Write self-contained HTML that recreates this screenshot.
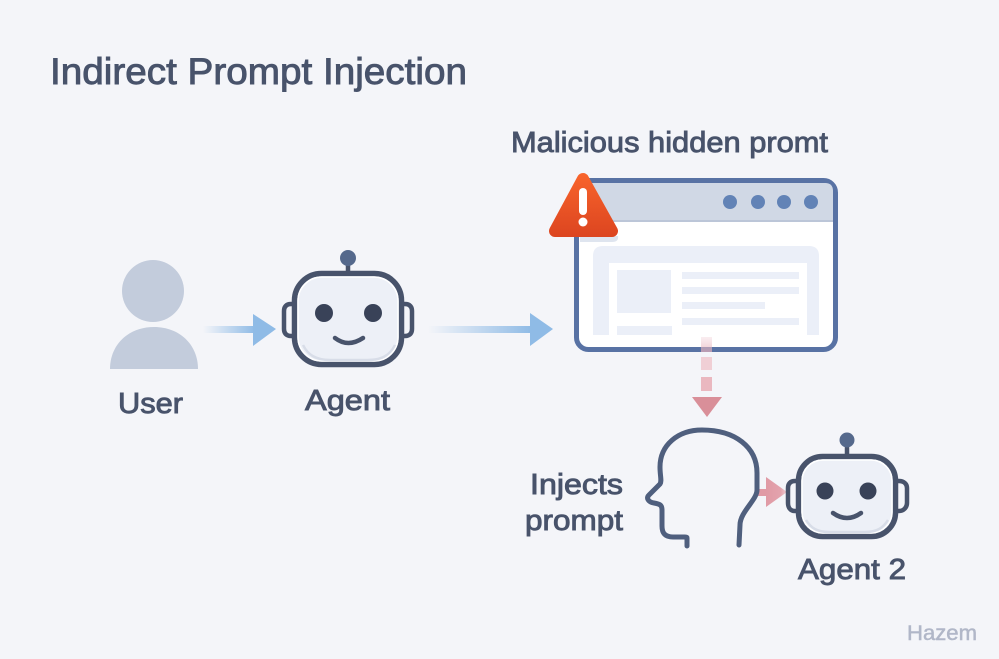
<!DOCTYPE html>
<html><head><meta charset="utf-8"><style>
html,body{margin:0;padding:0;background:#f4f5f9;width:999px;height:659px;overflow:hidden}
svg{display:block}
text{font-family:"Liberation Sans",sans-serif;fill:#48536b;stroke:#48536b;stroke-width:.9px}
</style></head><body>
<svg width="999" height="659" viewBox="0 0 999 659" xmlns="http://www.w3.org/2000/svg">
<defs>
<linearGradient id="b1" x1="0" x2="1" y1="0" y2="0"><stop offset="0" stop-color="#8fbbe6" stop-opacity="0"/><stop offset="1" stop-color="#8fbbe6"/></linearGradient>
<linearGradient id="w" gradientUnits="userSpaceOnUse" x1="0" x2="0" y1="172" y2="237"><stop offset="0" stop-color="#f9652c"/><stop offset="1" stop-color="#dc4520"/></linearGradient>
<linearGradient id="p" x1="0" x2="1" y1="0" y2="0"><stop offset="0" stop-color="#e09aa5"/><stop offset=".7" stop-color="#e3a3ad"/><stop offset="1" stop-color="#f0d0d6"/></linearGradient>
<linearGradient id="d" x1="0" x2="0" y1="0" y2="1"><stop offset="0" stop-color="#f0cdd4" stop-opacity=".5"/><stop offset="1" stop-color="#e6aeb8"/></linearGradient>
</defs>
<rect width="999" height="659" fill="#f4f5f9"/>

<text x="50" y="84" font-size="37" textLength="417" lengthAdjust="spacingAndGlyphs">Indirect Prompt Injection</text>
<text x="511" y="152" font-size="29" textLength="317" lengthAdjust="spacingAndGlyphs">Malicious hidden promt</text>

<!-- user -->
<circle cx="153" cy="291" r="31" fill="#c3ccdc"/>
<path d="M110 369C110 345 128 327 154 327C180 327 198 345 198 369Z" fill="#c3ccdc"/>
<text x="118" y="413" font-size="29" textLength="65" lengthAdjust="spacingAndGlyphs">User</text>

<!-- arrows -->
<rect x="203" y="326" width="52" height="7" fill="url(#b1)"/>
<path d="M253 314L276 329L253 346Z" fill="#8fbbe6"/>
<rect x="428" y="326" width="104" height="7" fill="url(#b1)"/>
<path d="M530 313L553 329L530 346Z" fill="#8fbbe6"/>

<!-- agent 1 -->
<path d="M294 304H291C286 304 284 307 284 311V329C284 333 286 336 291 336H294M402 304H405C410 304 412 307 412 311V329C412 333 410 336 405 336H402" fill="none" stroke="#48536b" stroke-width="4.500"/>
<line x1="348" y1="262" x2="348" y2="272" stroke="#48536b" stroke-width="4.500"/>
<circle cx="348" cy="258" r="8" fill="#55698c"/>
<rect x="294.500" y="273.500" width="107" height="91" rx="27" fill="#edf0f7" stroke="#48536b" stroke-width="5.500"/>
<rect x="298" y="277" width="100" height="84" rx="24" fill="none" stroke="#fff" stroke-width="1.500"/>
<path d="M303 345C308 355 316 360 330 360H368C382 360 390 355 395 345" fill="none" stroke="#d8dde8" stroke-width="2.500"/>
<circle cx="324" cy="313" r="9" fill="#394258"/>
<circle cx="373" cy="313" r="9" fill="#394258"/>
<path d="M335 338Q348 348 363 338" fill="none" stroke="#48536b" stroke-width="4.500" stroke-linecap="round"/>
<text x="305" y="410" font-size="29" textLength="85" lengthAdjust="spacingAndGlyphs">Agent</text>

<!-- window -->
<rect x="576.500" y="180.500" width="259" height="169" rx="12" fill="#fff" stroke="#5872a4" stroke-width="5"/>
<path d="M579 222V191Q579 183 587 183H825Q833 183 833 191V222Z" fill="#d0d8e5"/>
<rect x="579" y="220" width="254" height="2" fill="#bcc6d8"/>
<circle cx="730" cy="202" r="7" fill="#6283b6"/>
<circle cx="758" cy="202" r="7" fill="#6283b6"/>
<circle cx="784" cy="202" r="7" fill="#6283b6"/>
<circle cx="811" cy="202" r="7" fill="#6283b6"/>
<path d="M593 335V256Q593 246 603 246H809Q819 246 819 256V335H807V263H609V335Z" fill="#ebeff8"/>
<rect x="617" y="270" width="54" height="43" fill="#ebeff8"/>
<rect x="682" y="272" width="117" height="7" fill="#ebeff8"/>
<rect x="682" y="287" width="117" height="7" fill="#ebeff8"/>
<rect x="682" y="302" width="83" height="7" fill="#ebeff8"/>
<rect x="682" y="318" width="117" height="7" fill="#ebeff8"/>
<rect x="617" y="326" width="55" height="9" fill="#ebeff8"/>

<!-- warning -->
<path d="M580 236H618Q619 242 612 242H580Z" fill="#dfe5ef"/>
<path d="M583 179L612 231H555Z" fill="url(#w)" stroke="url(#w)" stroke-width="12" stroke-linejoin="round"/>
<rect x="579" y="188" width="8" height="27" rx="4" fill="#fff"/>
<circle cx="583" cy="222" r="4.500" fill="#fff"/>

<!-- dashed -->
<rect x="701" y="337" width="11" height="15" fill="url(#d)" opacity=".7"/>
<rect x="701" y="357" width="11" height="13" fill="#f0cfd5"/>
<rect x="701" y="377" width="11" height="14" fill="#eab8c0"/>
<path d="M692 397H722L707 417Z" fill="#d98f99"/>

<!-- pink arrow -->
<rect x="757" y="489" width="10" height="7" fill="#e09aa5"/>
<path d="M766 477L787 492L766 507Z" fill="url(#p)"/>

<!-- head -->
<path d="M687 546V538C687 537 686 537 685 537H673C665 537 662 533 662 526V510C662 505 660 504 654 503C648 502 646 498 649 495L660 484C662 481 660 476 660 467C660 445 678 430 702 430C735 430 757 447 757 473V490C757 500 740 512 740 525L739 545" fill="none" stroke="#4f5f7e" stroke-width="5" stroke-linecap="round" stroke-linejoin="round"/>

<!-- agent 2 -->
<path d="M798 481H795C790 481 788 484 788 488V503C788 507 790 511 795 511H798M896 481H899C904 481 907 484 907 488V503C907 507 904 511 899 511H896" fill="none" stroke="#48536b" stroke-width="4.500"/>
<line x1="847" y1="444" x2="847" y2="455" stroke="#48536b" stroke-width="4.500"/>
<circle cx="847" cy="440" r="7.500" fill="#55698c"/>
<rect x="798.500" y="456.500" width="97" height="80" rx="24" fill="#edf0f7" stroke="#48536b" stroke-width="5.500"/>
<rect x="802" y="460" width="90" height="73" rx="21" fill="none" stroke="#fff" stroke-width="1.500"/>
<path d="M806 520C811 528 817 532 829 532H865C877 532 883 528 888 520" fill="none" stroke="#d8dde8" stroke-width="2.500"/>
<circle cx="825" cy="491" r="8.500" fill="#394258"/>
<circle cx="868" cy="491" r="8.500" fill="#394258"/>
<path d="M833 513Q847 523 861 513" fill="none" stroke="#48536b" stroke-width="4.500" stroke-linecap="round"/>

<text x="530" y="494" font-size="29" textLength="93" lengthAdjust="spacingAndGlyphs">Injects</text>
<text x="525" y="530" font-size="29" textLength="98" lengthAdjust="spacingAndGlyphs">prompt</text>
<text x="798" y="579" font-size="29" textLength="108" lengthAdjust="spacingAndGlyphs">Agent 2</text>
<text x="907" y="640" font-size="21" textLength="70" lengthAdjust="spacingAndGlyphs" style="fill:#b1b7c8;stroke:#b1b7c8;stroke-width:.5px">Hazem</text>
</svg>
</body></html>
